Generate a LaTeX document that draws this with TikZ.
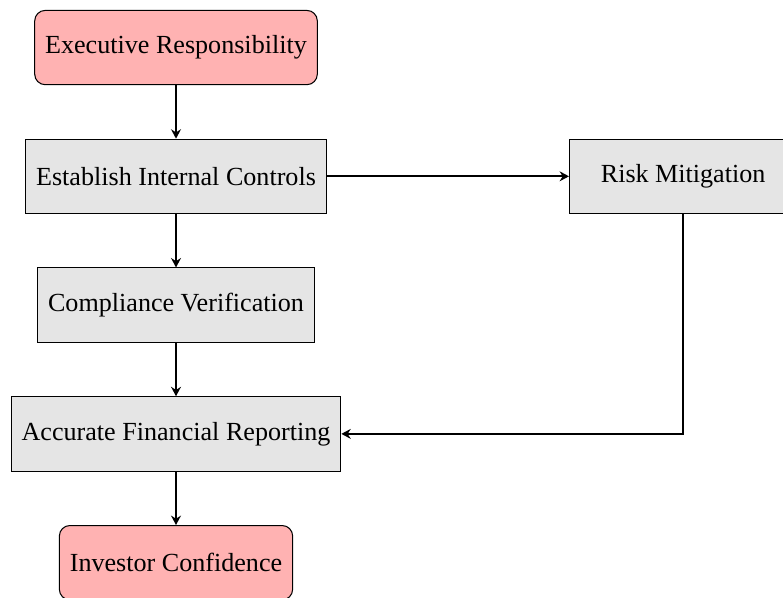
\documentclass[tikz,border=0pt]{standalone}
\usepackage{fontspec}
\setmainfont{Liberation Serif}
\usepackage{tikz}
\usetikzlibrary{arrows.meta,positioning}
\tikzset{
  endbox/.style ={draw, rounded corners=4pt, minimum width=3.06cm,
                  minimum height=1cm, inner xsep=4pt, fill=red!30},
  stepbox/.style={draw, minimum width=3.06cm, minimum height=1cm,
                  inner xsep=4pt, fill=black!10},
  flow/.style   ={-{Stealth[length=3.6pt,width=3.8pt,inset=1.2pt]}, thick},
}
\begin{document}
\begin{tikzpicture}
  \useasboundingbox (-2.370,0.640) rectangle (8.173,-7.399);
  \node[endbox]  (exec) at (0,0) {Executive Responsibility};
  \node[stepbox] (ctrl) [below=0.72cm of exec] {Establish Internal Controls};
  \node[stepbox] (risk) [right=3.26cm of ctrl] {Risk Mitigation};
  \node[stepbox] (comp) [below=0.72cm of ctrl] {Compliance Verification};
  \node[stepbox] (rep)  [below=0.72cm of comp] {Accurate Financial Reporting};
  \node[endbox]  (inv)  [below=0.72cm of rep]  {Investor Confidence};
  \draw[flow] (exec) -- (ctrl);
  \draw[flow] (ctrl) -- (comp);
  \draw[flow] (comp) -- (rep);
  \draw[flow] (rep) -- (inv);
  \draw[flow] (ctrl) -- (risk);
  \draw[flow] (risk) |- (rep);
\end{tikzpicture}
\end{document}
